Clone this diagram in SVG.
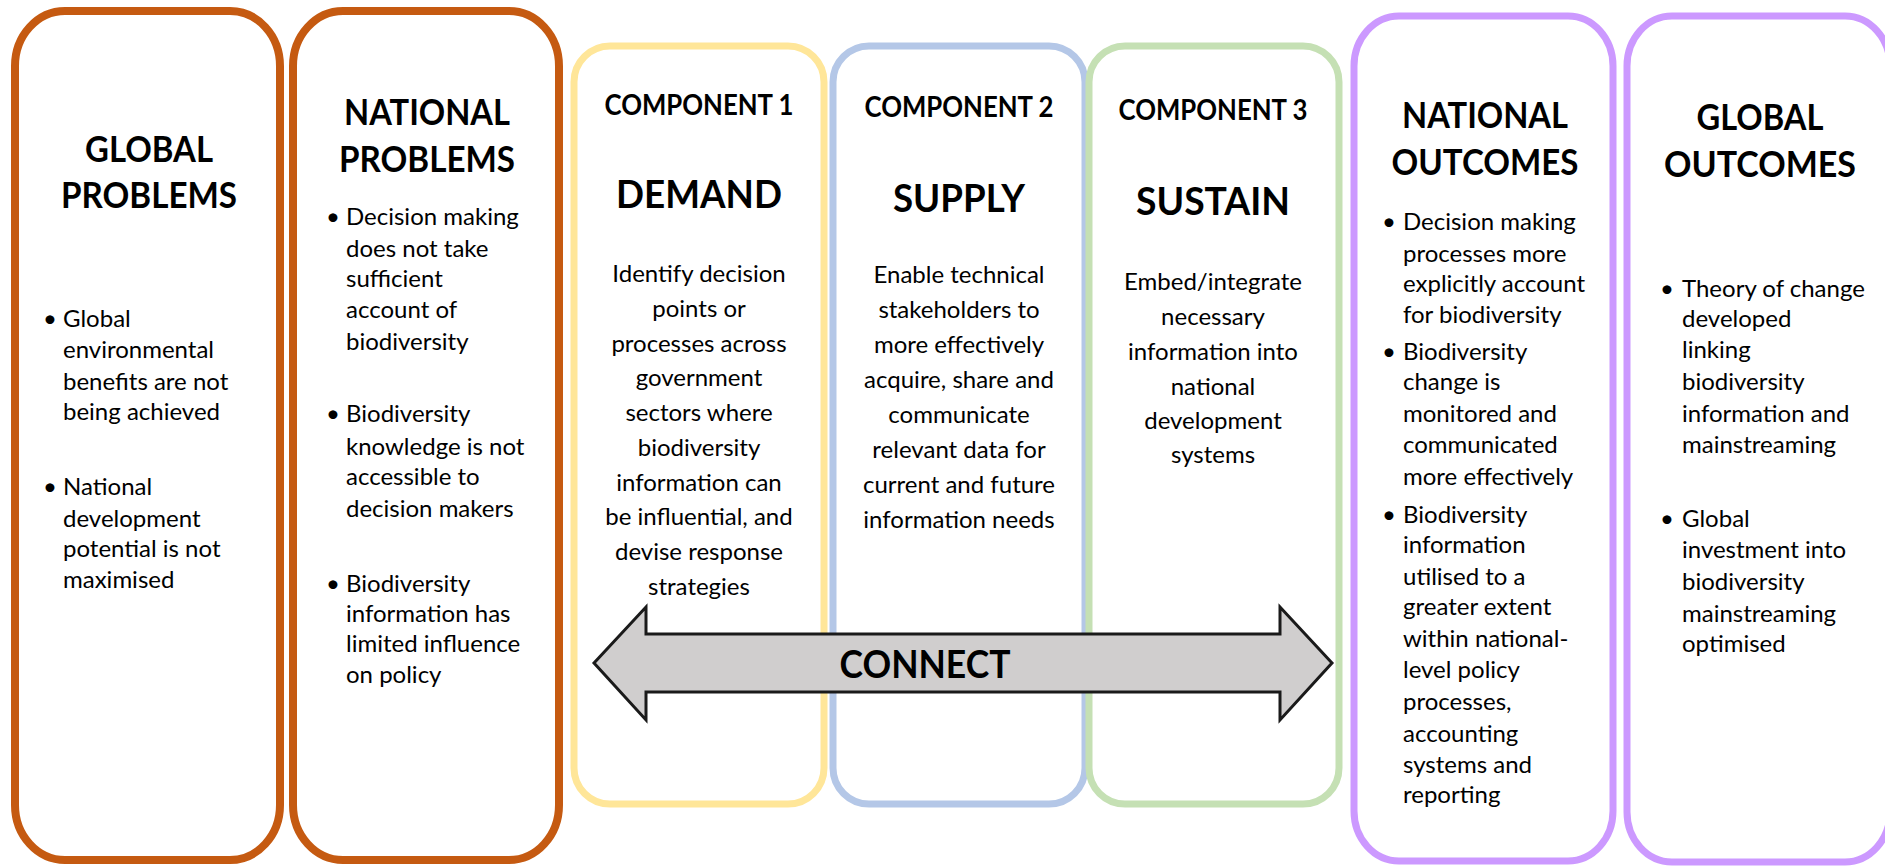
<svg xmlns="http://www.w3.org/2000/svg" width="1885" height="867" viewBox="0 0 1885 867">
<style>
.box{fill:#fff;stroke-width:8}
.orange{stroke:#c55a11}
.yellow{stroke:#ffe699;stroke-width:7}
.blue{stroke:#b4c7e7;stroke-width:7}
.green{stroke:#c5e0b4;stroke-width:7}
.purple{stroke:#cc99ff;stroke-width:7}
text{font-family:Lato,"Liberation Sans",sans-serif;fill:#000}
.h{font-size:37px;font-weight:bold;text-anchor:middle}
.ct{font-size:28px;font-weight:bold;text-anchor:middle}
.big{font-size:39px;font-weight:bold;text-anchor:middle}
.b{font-size:24px}
.c{text-anchor:middle}
.dot{font-size:24px;text-anchor:middle}
.arrow{fill:#d0cece;stroke:#1a1a1a;stroke-width:3;stroke-linejoin:miter}
.conn{font-size:39px;font-weight:bold;text-anchor:middle}
</style>
<rect width="1885" height="867" fill="#fff"/>

<g id="global-problems">
<rect class="box orange" x="15" y="11" width="265" height="849" rx="50" ry="55"/>
<text class="h" x="149" y="162" textLength="128" lengthAdjust="spacingAndGlyphs">GLOBAL</text>
<text class="h" x="149" y="208" textLength="176" lengthAdjust="spacingAndGlyphs">PROBLEMS</text>
<text class="dot" x="50" y="327">•</text>
<text class="b" x="63" y="327">Global</text>
<text class="b" x="63" y="358">environmental</text>
<text class="b" x="63" y="390">benefits are not</text>
<text class="b" x="63" y="420">being achieved</text>
<text class="dot" x="50" y="495">•</text>
<text class="b" x="63" y="495">National</text>
<text class="b" x="63" y="527">development</text>
<text class="b" x="63" y="557">potential is not</text>
<text class="b" x="63" y="588">maximised</text>
</g>

<g id="national-problems">
<rect class="box orange" x="293" y="11" width="266" height="849" rx="50" ry="55"/>
<text class="h" x="427" y="125" textLength="166" lengthAdjust="spacingAndGlyphs">NATIONAL</text>
<text class="h" x="427" y="172" textLength="176" lengthAdjust="spacingAndGlyphs">PROBLEMS</text>
<text class="dot" x="333" y="225">•</text>
<text class="b" x="346" y="225">Decision making</text>
<text class="b" x="346" y="257">does not take</text>
<text class="b" x="346" y="287">sufficient</text>
<text class="b" x="346" y="318">account of</text>
<text class="b" x="346" y="350">biodiversity</text>
<text class="dot" x="333" y="422">•</text>
<text class="b" x="346" y="422">Biodiversity</text>
<text class="b" x="346" y="455">knowledge is not</text>
<text class="b" x="346" y="485">accessible to</text>
<text class="b" x="346" y="517">decision makers</text>
<text class="dot" x="333" y="592">•</text>
<text class="b" x="346" y="592">Biodiversity</text>
<text class="b" x="346" y="622">information has</text>
<text class="b" x="346" y="652">limited influence</text>
<text class="b" x="346" y="683">on policy</text>
</g>

<g id="component-1">
<rect class="box yellow" x="574" y="46" width="250" height="758" rx="36" ry="36"/>
<text class="ct" x="699" y="115" textLength="189" lengthAdjust="spacingAndGlyphs">COMPONENT 1</text>
<text class="big" x="699" y="208" textLength="166" lengthAdjust="spacingAndGlyphs">DEMAND</text>
<text class="b c" x="699" y="282">Identify decision</text>
<text class="b c" x="699" y="317">points or</text>
<text class="b c" x="699" y="352">processes across</text>
<text class="b c" x="699" y="386">government</text>
<text class="b c" x="699" y="421">sectors where</text>
<text class="b c" x="699" y="456">biodiversity</text>
<text class="b c" x="699" y="491">information can</text>
<text class="b c" x="699" y="525">be influential, and</text>
<text class="b c" x="699" y="560">devise response</text>
<text class="b c" x="699" y="595">strategies</text>
</g>

<g id="component-2">
<rect class="box blue" x="833" y="46" width="252" height="758" rx="36" ry="36"/>
<text class="ct" x="959" y="117" textLength="189" lengthAdjust="spacingAndGlyphs">COMPONENT 2</text>
<text class="big" x="959" y="212" textLength="132" lengthAdjust="spacingAndGlyphs">SUPPLY</text>
<text class="b c" x="959" y="283">Enable technical</text>
<text class="b c" x="959" y="318">stakeholders to</text>
<text class="b c" x="959" y="353">more effectively</text>
<text class="b c" x="959" y="388">acquire, share and</text>
<text class="b c" x="959" y="423">communicate</text>
<text class="b c" x="959" y="458">relevant data for</text>
<text class="b c" x="959" y="493">current and future</text>
<text class="b c" x="959" y="528">information needs</text>
</g>

<g id="component-3">
<rect class="box green" x="1089" y="46" width="250" height="758" rx="36" ry="36"/>
<text class="ct" x="1213" y="120" textLength="189" lengthAdjust="spacingAndGlyphs">COMPONENT 3</text>
<text class="big" x="1213" y="215" textLength="154" lengthAdjust="spacingAndGlyphs">SUSTAIN</text>
<text class="b c" x="1213" y="290">Embed/integrate</text>
<text class="b c" x="1213" y="325">necessary</text>
<text class="b c" x="1213" y="360">information into</text>
<text class="b c" x="1213" y="395">national</text>
<text class="b c" x="1213" y="429">development</text>
<text class="b c" x="1213" y="463">systems</text>
</g>

<g id="national-outcomes">
<rect class="box purple" x="1354" y="16" width="259" height="845" rx="45" ry="50"/>
<text class="h" x="1485" y="128" textLength="166" lengthAdjust="spacingAndGlyphs">NATIONAL</text>
<text class="h" x="1485" y="175" textLength="187" lengthAdjust="spacingAndGlyphs">OUTCOMES</text>
<text class="dot" x="1389" y="230">•</text>
<text class="b" x="1403" y="230">Decision making</text>
<text class="b" x="1403" y="262">processes more</text>
<text class="b" x="1403" y="292">explicitly account</text>
<text class="b" x="1403" y="323">for biodiversity</text>
<text class="dot" x="1389" y="360">•</text>
<text class="b" x="1403" y="360">Biodiversity</text>
<text class="b" x="1403" y="390">change is</text>
<text class="b" x="1403" y="422">monitored and</text>
<text class="b" x="1403" y="453">communicated</text>
<text class="b" x="1403" y="485">more effectively</text>
<text class="dot" x="1389" y="523">•</text>
<text class="b" x="1403" y="523">Biodiversity</text>
<text class="b" x="1403" y="553">information</text>
<text class="b" x="1403" y="585">utilised to a</text>
<text class="b" x="1403" y="615">greater extent</text>
<text class="b" x="1403" y="647">within national-</text>
<text class="b" x="1403" y="678">level policy</text>
<text class="b" x="1403" y="710">processes,</text>
<text class="b" x="1403" y="742">accounting</text>
<text class="b" x="1403" y="773">systems and</text>
<text class="b" x="1403" y="803">reporting</text>
</g>

<g id="global-outcomes">
<rect class="box purple" x="1627" y="16" width="263" height="846" rx="45" ry="50"/>
<text class="h" x="1760" y="130" textLength="127" lengthAdjust="spacingAndGlyphs">GLOBAL</text>
<text class="h" x="1760" y="177" textLength="192" lengthAdjust="spacingAndGlyphs">OUTCOMES</text>
<text class="dot" x="1667" y="297">•</text>
<text class="b" x="1682" y="297">Theory of change</text>
<text class="b" x="1682" y="327">developed</text>
<text class="b" x="1682" y="358">linking</text>
<text class="b" x="1682" y="390">biodiversity</text>
<text class="b" x="1682" y="422">information and</text>
<text class="b" x="1682" y="453">mainstreaming</text>
<text class="dot" x="1667" y="527">•</text>
<text class="b" x="1682" y="527">Global</text>
<text class="b" x="1682" y="558">investment into</text>
<text class="b" x="1682" y="590">biodiversity</text>
<text class="b" x="1682" y="622">mainstreaming</text>
<text class="b" x="1682" y="652">optimised</text>
</g>

<g id="connectors">
<g id="connect-arrow">
<polygon class="arrow" points="594,663 646,607 646,634 1280,634 1280,607 1332,663 1280,720 1280,692 646,692 646,720"/>
<text class="conn" x="925" y="678" textLength="171" lengthAdjust="spacingAndGlyphs">CONNECT</text>
</g>
</g>
</svg>
